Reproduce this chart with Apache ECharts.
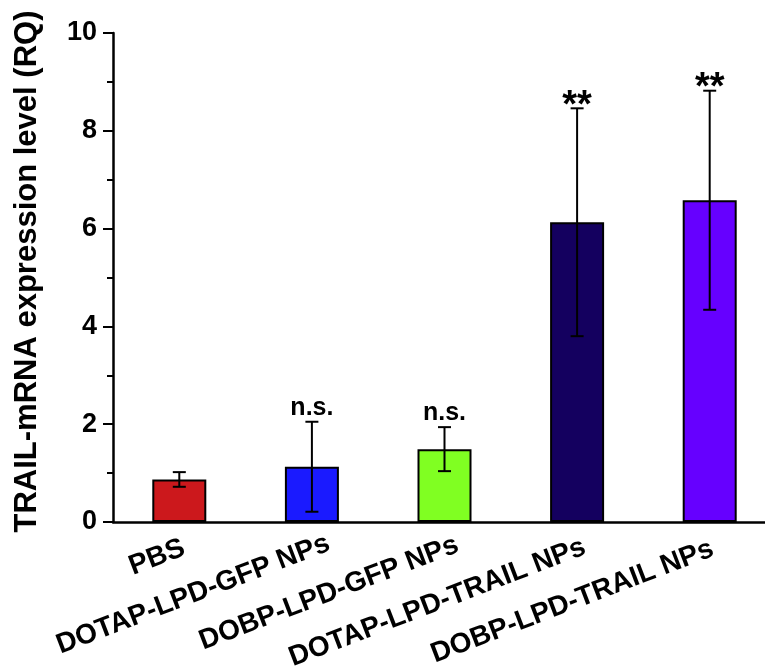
<!DOCTYPE html>
<html>
<head>
<meta charset="utf-8">
<script src="https://cdn.jsdelivr.net/npm/echarts@6/dist/echarts.min.js"></script>
<style>html,body{margin:0;padding:0;background:#fff;}#c{width:765px;height:671px;}</style>
</head>
<body>
<div id="c"></div>
<script>
var categories = ['PBS', 'DOTAP-LPD-GFP NPs', 'DOBP-LPD-GFP NPs', 'DOTAP-LPD-TRAIL NPs', 'DOBP-LPD-TRAIL NPs'];
var means = [0.87, 1.13, 1.49, 6.13, 6.58];
var errors = [0.15, 0.92, 0.45, 2.33, 2.24];
var annotations = ['', 'n.s.', 'n.s.', '**', '**'];
var yTicks = [0, 2, 4, 6, 8, 10];

// styling (not data)
var barColors = ['#cc181c', '#1a1aff', '#80ff22', '#14005f', '#6600ff'];
var labelNudge = [5, 18, 14, 8, 3];

var FONT = '"Liberation Sans", Arial, sans-serif';
var chart = echarts.init(document.getElementById('c'), null, {renderer: 'canvas'});

var errData = means.map(function (m, i) { return [i, m, errors[i]]; });

chart.setOption({
  animation: false,
  backgroundColor: '#fff',
  grid: {left: 113, top: 33, width: 663, height: 489, containLabel: false, outerBoundsMode: 'none'},
  xAxis: {
    type: 'category',
    data: categories.map(function (c, i) {
      return {value: c, textStyle: {padding: [0, -labelNudge[i], 0, 0]}};
    }),
    axisLine: {lineStyle: {color: '#000', width: 2.5}},
    axisTick: {show: false},
    axisLabel: {rotate: 21, fontFamily: FONT, fontWeight: 'bold', fontSize: 28, color: '#000', margin: 27, interval: 0}
  },
  yAxis: {
    type: 'value',
    min: yTicks[0], max: yTicks[yTicks.length - 1], interval: 2,
    name: 'TRAIL-mRNA expression level (RQ)',
    nameLocation: 'middle',
    nameGap: 70,
    nameTextStyle: {fontFamily: FONT, fontWeight: 'bold', fontSize: 31, color: '#000', padding: [0, 0, 0, 12]},
    axisLine: {show: true, lineStyle: {color: '#000', width: 2.5}},
    axisTick: {show: true, length: 10, lineStyle: {color: '#000', width: 2}},
    minorTick: {show: true, splitNumber: 2, length: 6, lineStyle: {color: '#000', width: 2}},
    splitLine: {show: false},
    axisLabel: {fontFamily: FONT, fontWeight: 'bold', fontSize: 27, color: '#000', margin: 16}
  },
  series: [
    {
      type: 'bar',
      data: means.map(function (m, i) { return {value: m, itemStyle: {color: barColors[i]}}; }),
      barWidth: 54,
      itemStyle: {borderColor: '#000', borderWidth: 2}
    },
    {
      type: 'custom',
      data: errData,
      z: 10,
      renderItem: function (params, api) {
        var i = api.value(0);
        var m = api.value(1), e = api.value(2);
        var hi = api.coord([i, m + e]);
        var lo = api.coord([i, m - e]);
        var w = 6.5;
        var st = {stroke: '#000', lineWidth: 2};
        var children = [
          {type: 'line', shape: {x1: hi[0], y1: hi[1], x2: lo[0], y2: lo[1]}, style: st},
          {type: 'line', shape: {x1: hi[0] - w, y1: hi[1], x2: hi[0] + w, y2: hi[1]}, style: st},
          {type: 'line', shape: {x1: lo[0] - w, y1: lo[1], x2: lo[0] + w, y2: lo[1]}, style: st}
        ];
        var a = annotations[i];
        if (a) {
          var star = a.indexOf('*') >= 0;
          children.push({
            type: 'text',
            x: hi[0], y: hi[1] - (star ? 2 : 14),
            style: {text: a, textAlign: 'center', textVerticalAlign: 'middle',
                    font: 'bold ' + (star ? 38 : 25) + 'px ' + FONT, fill: '#000'}
          });
        }
        return {type: 'group', children: children};
      }
    }
  ]
});
</script>
</body>
</html>
